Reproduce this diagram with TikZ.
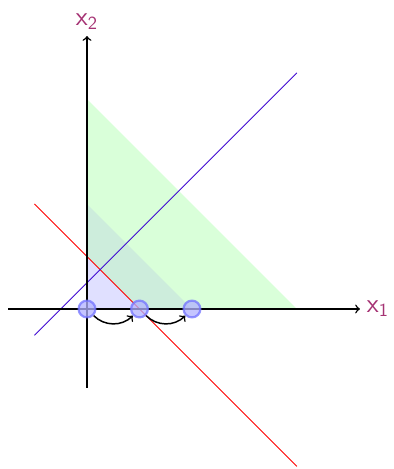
\documentclass[tikz,border=0pt]{standalone}
\usetikzlibrary{arrows}
\definecolor{lblcol}{RGB}{165,50,115}
\definecolor{lncol}{RGB}{64,10,210}
\definecolor{midgreen}{RGB}{205,237,220}
\definecolor{lav}{RGB}{224,224,255}
\begin{document}
\begin{tikzpicture}[line join=round, >=to, font=\Large]

	% khung hình
	\useasboundingbox (-1.657,-3.048) rectangle (5.848,5.886);
	\coordinate (O) at (0,0);
	\coordinate (A) at (4,0);
	\coordinate (B) at (0,4);
	\coordinate (C) at (2,0);
	\coordinate (D) at (0,2);
	\coordinate (E) at (1,0);
	\coordinate (F) at (0,1);
	% các miền tô màu
	\fill[green!15] (O)--(A)--(B)--cycle;
	\fill[midgreen] (O)--(C)--(D)--cycle;
	\fill[lav] (O)--(E)--(F)--cycle;
	% hai đường thẳng
	\draw[red] (-1,2)--(4,-3);
	\draw[lncol] (-1,-0.5)--(4,4.5);
	% hai trục
	\draw[thick,->] (-1.5,0)--(5.2,0) node[right,text=lblcol]{$\mathsf{x}_{\mathsf{1}}$};
	\draw[thick,->] (0,-1.5)--(0,5.2) node[above,text=lblcol]{$\mathsf{x}_{\mathsf{2}}$};
	% các điểm
	\foreach \i in {0,1,2} {
		\node[circle, draw=blue!55, fill=blue!30, line width=1.2pt, minimum size=0.32cm, inner sep=0pt, opacity=0.75] (p\i) at (\i,0) {};
	}
	\draw[thick,->] (p0.south east) to[bend right=45] (p1.south west);
	\draw[thick,->] (p1.south east) to[bend right=45] (p2.south west);

\end{tikzpicture}
\end{document}
